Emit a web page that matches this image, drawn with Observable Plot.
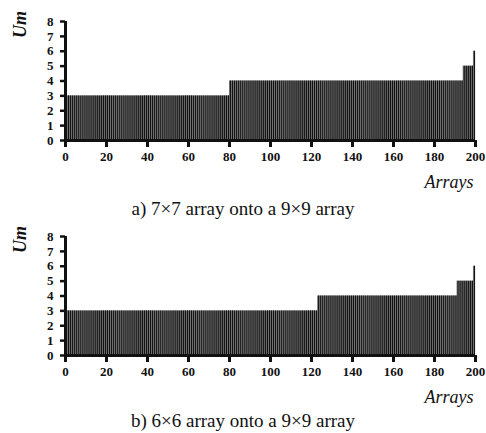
<!DOCTYPE html>
<html><head><meta charset="utf-8">
<script src="https://cdn.jsdelivr.net/npm/d3@7"></script>
<script src="https://cdn.jsdelivr.net/npm/@observablehq/plot@0.6"></script>
<style>
body{margin:0;background:#fff;}
#wrap{position:relative;width:486px;height:433px;overflow:hidden;background:#fff;}
.panel{position:absolute;left:0;}
.cap{position:absolute;left:0;width:486px;text-align:center;font-family:"Liberation Serif",serif;font-size:19px;line-height:22px;color:#111;z-index:2;}
</style></head><body>
<div id="wrap"></div>
<script>
// tick labels
const xTicks = [0, 20, 40, 60, 80, 100, 120, 140, 160, 180, 200];
const yTicks = [0, 1, 2, 3, 4, 5, 6, 7, 8];
// panel a: runs of arrays with equal Um (first array, last array, Um)
const runStartA = [1, 81, 195, 200];
const runEndA   = [80, 194, 199, 200];
const runUmA    = [3, 4, 5, 6];
// panel b
const runStartB = [1, 124, 192, 200];
const runEndB   = [123, 191, 199, 200];
const runUmB    = [3, 4, 5, 6];
const captionA = "a) 7\u00d77 array onto a 9\u00d79 array";
const captionB = "b) 6\u00d76 array onto a 9\u00d79 array";
const yLabel = "Um";
const xLabel = "Arrays";

function expand(starts, ends, ums) {
  const rows = [];
  starts.forEach((s, k) => { for (let i = s; i <= ends[k]; i++) rows.push({array: i, um: ums[k]}); });
  return rows;
}

function panel(rows) {
  return Plot.plot({
    width: 486, height: 200,
    marginLeft: 65, marginRight: 11, marginTop: 21, marginBottom: 60,
    style: {fontFamily: "'Liberation Serif', serif", fontSize: "13px", fontWeight: "bold", color: "#111", background: "transparent"},
    x: {domain: [0, 200]},
    y: {domain: [0, 8]},
    marks: [
      Plot.rect(rows, {x1: d => d.array - 1, x2: d => d.array, y1: 0, y2: "um", fill: "#7a7a7a"}),
      Plot.ruleX(rows, {x: d => d.array - 0.5, y1: 0, y2: "um", stroke: "#111", strokeWidth: 1.2}),
      Plot.axisX({ticks: xTicks, tickSize: 7, tickPadding: 4, strokeWidth: 3, label: null}),
      Plot.axisY({ticks: yTicks, tickSize: 5, tickPadding: 7, strokeWidth: 2.5, label: null}),
      Plot.ruleX([0], {y1: 0, y2: 8, stroke: "#111", strokeWidth: 3}),
      Plot.ruleY([0], {x1: 0, x2: 200, stroke: "#111", strokeWidth: 3}),
      Plot.text([yLabel], {text: d => d, frameAnchor: "top-left", dx: -52, dy: 3, rotate: -90,
        fontSize: 18, fontStyle: "italic", fontWeight: "bold", textAnchor: "middle"}),
      Plot.text([xLabel], {text: d => d, frameAnchor: "bottom-right", dx: -2, dy: 47,
        fontSize: 18, fontStyle: "italic", fontWeight: "normal", textAnchor: "end"})
    ]
  });
}

const wrap = document.getElementById("wrap");
const pa = panel(expand(runStartA, runEndA, runUmA));
pa.classList.add("panel"); pa.style.top = "0px";
wrap.appendChild(pa);
const pb = panel(expand(runStartB, runEndB, runUmB));
pb.classList.add("panel"); pb.style.top = "215px";
wrap.appendChild(pb);
const ca = document.createElement("div"); ca.className = "cap"; ca.style.top = "198px"; ca.textContent = captionA;
wrap.appendChild(ca);
const cb = document.createElement("div"); cb.className = "cap"; cb.style.top = "410px"; cb.textContent = captionB;
wrap.appendChild(cb);
</script>
</body></html>
